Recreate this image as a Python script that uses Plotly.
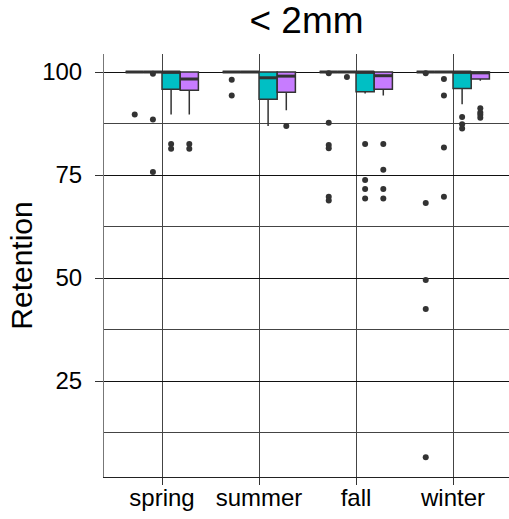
import plotly.graph_objects as go

seasons = ["spring", "summer", "fall", "winter"]
groups = ["g1", "g2", "g3", "g4"]
fill_colors = ["#F8766D", "#7CAE00", "#00BFC4", "#C77CFF"]

q1 = {
    "g1": [100, 100, 100, 100],
    "g2": [100, 100, 100, 100],
    "g3": [95.8, 93.4, 95.2, 96.0],
    "g4": [95.6, 95.1, 95.8, 98.3],
}
median = {
    "g1": [100, 100, 100, 100],
    "g2": [100, 100, 100, 100],
    "g3": [100, 98.6, 100, 100],
    "g4": [98.3, 99.0, 99.1, 99.8],
}
q3 = {
    "g1": [100, 100, 100, 100],
    "g2": [100, 100, 100, 100],
    "g3": [100, 100, 100, 100],
    "g4": [100, 100, 100, 100],
}
lower = {
    "g1": [100, 100, 100, 100],
    "g2": [100, 100, 100, 100],
    "g3": [89.7, 86.9, 94.8, 92.2],
    "g4": [89.7, 90.7, 94.3, 97.9],
}
upper = {
    "g1": [100, 100, 100, 100],
    "g2": [100, 100, 100, 100],
    "g3": [100, 100, 100, 100],
    "g4": [100, 100, 100, 100],
}
outliers = {
    "g1": [[89.7], [98.1, 94.3], [99.7, 87.7, 82.3, 81.5, 69.7, 68.8], [99.7, 68.2, 49.5, 42.5, 6.5]],
    "g2": [[99.6, 88.5, 75.7], [], [98.8], [98.3, 94.3, 81.7, 69.7]],
    "g3": [[82.5, 81.4], [], [82.5, 73.8, 71.6, 69.3], [89.1, 87.3, 86.3]],
    "g4": [[82.5, 81.4], [86.9], [82.5, 76.3, 71.6, 69.3], [91.2, 90.2, 89.6, 88.9]],
}

dodge = 0.75
bw = dodge / len(groups)

fig = go.Figure()
for gi, g in enumerate(groups):
    off = (gi - (len(groups) - 1) / 2) * bw
    xs = [si + 1 + off for si in range(len(seasons))]
    fig.add_trace(go.Box(
        x=xs, q1=q1[g], median=median[g], q3=q3[g],
        lowerfence=lower[g], upperfence=upper[g],
        width=bw, whiskerwidth=0, boxpoints=False,
        fillcolor=fill_colors[gi], line=dict(color="#333333", width=1.5),
        name=g, showlegend=False, hoverinfo="skip",
    ))
    # thicker median segments (ggplot fatten)
    mx, my = [], []
    for x, m in zip(xs, median[g]):
        mx += [x - bw / 2, x + bw / 2, None]
        my += [m, m, None]
    fig.add_trace(go.Scatter(
        x=mx, y=my, mode="lines", line=dict(color="#333333", width=3),
        showlegend=False, hoverinfo="skip",
    ))
    ox, oy = [], []
    for si, vals in enumerate(outliers[g]):
        for v in vals:
            ox.append(si + 1 + off)
            oy.append(v)
    fig.add_trace(go.Scatter(
        x=ox, y=oy, mode="markers",
        marker=dict(color="#333333", size=6),
        showlegend=False, hoverinfo="skip",
    ))

fig.update_layout(
    width=509, height=519,
    margin=dict(l=104, r=0, t=54, b=42),
    paper_bgcolor="white", plot_bgcolor="white",
    boxmode="overlay",
    font=dict(family="Liberation Sans, Arial, sans-serif", color="black"),
    title=dict(text="< 2mm", x=0.5, xref="paper", xanchor="center",
               y=1 - 20.5 / 519, yref="container", yanchor="middle",
               font=dict(size=37, color="black")),
    xaxis=dict(
        range=[0.402, 4.577], tickvals=[1, 2, 3, 4], ticktext=seasons,
        showgrid=True, gridcolor="#444444", gridwidth=1,
        ticks="outside", ticklen=7, tickcolor="#333333",
        showline=True, linecolor="#222222", linewidth=1,
        tickfont=dict(size=24, color="black"), zeroline=False,
        ticklabelstandoff=-8,
    ),
    yaxis=dict(
        range=[1.70, 104.37], tickvals=[25, 50, 75, 100],
        showgrid=True, gridcolor="#111111", gridwidth=1,
        minor=dict(tickvals=[12.5, 37.5, 62.5, 87.5], showgrid=True,
                   gridcolor="#444444", gridwidth=1, ticks=""),
        ticks="outside", ticklen=8, tickcolor="#333333",
        showline=True, linecolor="#777777", linewidth=1,
        tickfont=dict(size=24, color="black"), zeroline=False,
        ticklabelstandoff=8,
        title=dict(text="Retention", font=dict(size=30, color="black"), standoff=0),
    ),
)

fig.write_html("out.html")
